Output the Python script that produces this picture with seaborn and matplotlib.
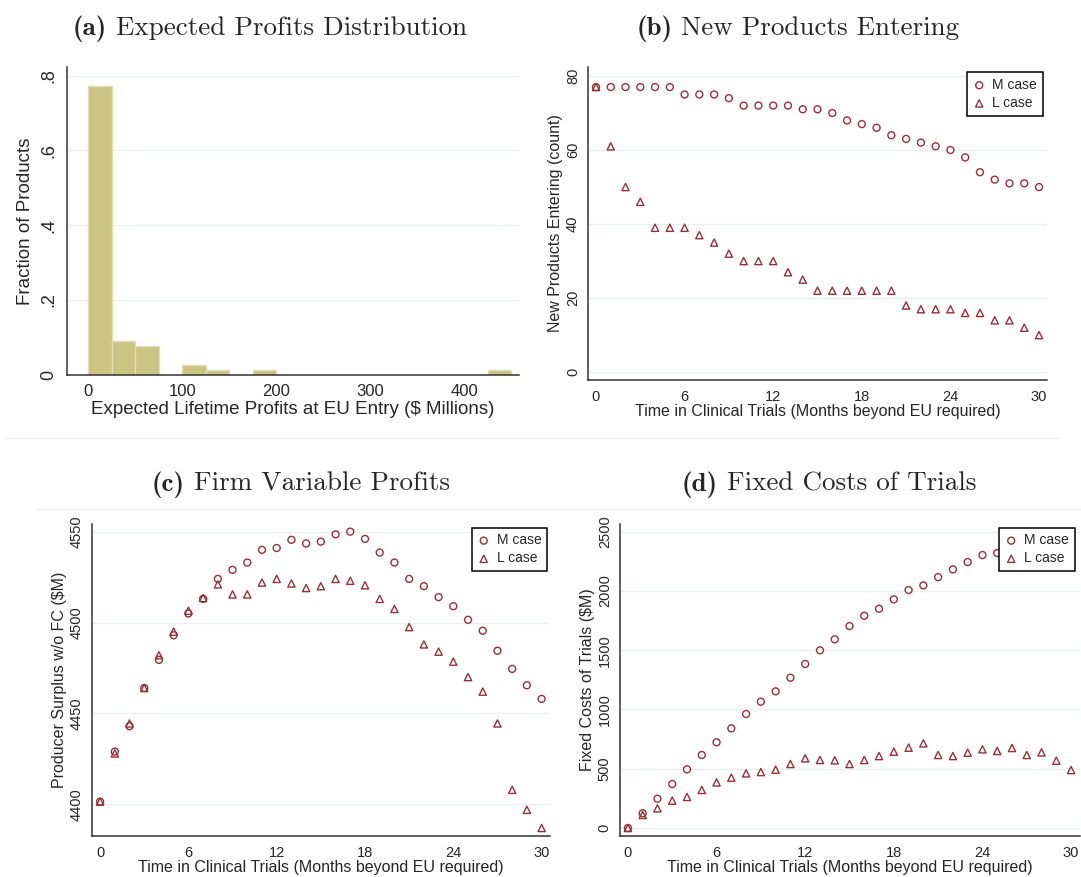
import numpy as np
import pandas as pd
import matplotlib
matplotlib.use("Agg")
import matplotlib.pyplot as plt
import seaborn as sns
from matplotlib.lines import Line2D

# ---------------- data ----------------
profit_bin_left = [0, 25, 50, 100, 125, 175, 425]
profit_fraction = [0.772, 0.090, 0.077, 0.026, 0.013, 0.013, 0.013]
profit_bin_edges = list(range(0, 475, 25))

months = list(range(31))
entering_m = [77, 77, 77, 77, 77, 77, 75, 75, 75, 74, 72, 72, 72, 72, 71, 71,
              70, 68, 67, 66, 64, 63, 62, 61, 60, 58, 54, 52, 51, 51, 50]
entering_l = [77, 61, 50, 46, 39, 39, 39, 37, 35, 32, 30, 30, 30, 27, 25, 22,
              22, 22, 22, 22, 22, 18, 17, 17, 17, 16, 16, 14, 14, 12, 10]

surplus_m = [4401.5, 4429, 4443, 4464, 4479.5, 4493, 4505, 4513, 4524, 4529,
             4533, 4540, 4541, 4545.5, 4543.5, 4544.5, 4548.5, 4550, 4546,
             4538.5, 4533, 4524, 4520, 4514, 4509, 4501.5, 4495.5, 4484.5,
             4474.5, 4465.5, 4458]
surplus_l = [4401.5, 4428, 4444.5, 4464, 4482, 4495, 4506.5, 4513.5, 4521,
             4515.5, 4515.5, 4522, 4524, 4521.5, 4519, 4520, 4524, 4523,
             4520.5, 4513, 4507.5, 4497.5, 4488, 4484, 4478.5, 4470, 4462,
             4444.5, 4408, 4397, 4387]

fixed_months_m = list(range(26))
fixed_cost_m = [0, 124, 247, 371, 495, 616, 723, 841, 962, 1066, 1153, 1268,
                1384, 1499, 1592, 1704, 1791, 1850, 1929, 2008, 2047, 2117,
                2182, 2244, 2303, 2320]
fixed_cost_l = [0, 110, 166, 231, 262, 321, 385, 425, 461, 472, 492, 540, 588,
                574, 571, 540, 574, 607, 644, 678, 714, 616, 607, 636, 664, 650,
                675, 616, 638, 568, 489]

titles = [("(a)", "Expected Profits Distribution"),
          ("(b)", "New Products Entering"),
          ("(c)", "Firm Variable Profits"),
          ("(d)", "Fixed Costs of Trials")]

# ---------------- style ----------------
sns.set_style("white")
plt.rcParams["font.family"] = ["Liberation Sans", "DejaVu Sans"]

W, H = 1081, 877
fig = plt.figure(figsize=(W / 100, H / 100), dpi=100)

MARK = "#9A2F3A"
KHAKI = "#CBC483"
GRID = "#E8F0F2"
SPINE = "#333333"


def make_ax(left, right, top, bottom):
    return fig.add_axes([left / W, 1 - bottom / H, (right - left) / W, (bottom - top) / H])


def style_ax(ax, ysize, xsize, labsize, ypad=3):
    for s in ["top", "right"]:
        ax.spines[s].set_visible(False)
    for s in ["left", "bottom"]:
        ax.spines[s].set_color(SPINE)
        ax.spines[s].set_linewidth(1.1)
    ax.tick_params(axis="both", direction="out", length=4, width=1, color=SPINE,
                   pad=3)
    ax.tick_params(axis="y", labelsize=ysize, pad=ypad)
    ax.tick_params(axis="x", labelsize=xsize)
    plt.setp(ax.get_yticklabels(), rotation=90, va="center")
    ax.grid(False)
    lo, hi = ax.get_ylim()
    for yv in ax.get_yticks():
        if lo <= yv <= hi:
            ax.axhline(yv, color=GRID, lw=1.0, zorder=0)
    ax.xaxis.label.set_size(labsize)
    ax.yaxis.label.set_size(labsize)


def scatter_pair(ax, x1, y1, x2, y2):
    sns.scatterplot(x=x1, y=y1, ax=ax, marker="o", s=25, facecolors="none",
                    edgecolor=MARK, linewidth=1.0, label="M case", zorder=3)
    sns.scatterplot(x=x2, y=y2, ax=ax, marker="^", s=27, facecolors="none",
                    edgecolor=MARK, linewidth=1.0, label="L case", zorder=3)


def add_legend(ax, xa, ya):
    leg = ax.legend(loc="upper right", bbox_to_anchor=(xa, ya), frameon=True,
                    fancybox=False, framealpha=1, edgecolor="black",
                    fontsize=10, handlelength=0.9, handletextpad=0.5,
                    borderpad=0.4, labelspacing=0.3, borderaxespad=0)
    leg.get_frame().set_linewidth(1.1)
    leg.set_zorder(10)


# ---------------- (a) histogram ----------------
axa = make_ax(66.7, 519, 67.3, 374.7)
sns.histplot(x=[b + 12.5 for b in profit_bin_left], weights=profit_fraction,
             bins=profit_bin_edges, stat="count", ax=axa, color=KHAKI,
             edgecolor="#E2DDB4", linewidth=1.0, alpha=1, zorder=2)
axa.set_xlim(-23, 458.5)
axa.set_ylim(0, 0.8225)
axa.set_xticks([0, 100, 200, 300, 400])
axa.set_yticks([0, 0.2, 0.4, 0.6, 0.8])
axa.set_yticklabels(["0", ".2", ".4", ".6", ".8"])
axa.set_xlabel("Expected Lifetime Profits at EU Entry ($ Millions)", labelpad=1)
axa.set_ylabel("Fraction of Products", labelpad=4)
style_ax(axa, 13, 12, 13.5)

# ---------------- (b) entering ----------------
axb = make_ax(587.7, 1047.3, 66.7, 380.3)
scatter_pair(axb, months, entering_m, months, entering_l)
axb.set_xlim(-0.56, 30.56)
axb.set_ylim(-2.2, 82.5)
axb.set_xticks(range(0, 31, 3))
axb.set_xticklabels([str(m) if m % 6 == 0 else "" for m in range(0, 31, 3)])
axb.set_yticks([0, 20, 40, 60, 80])
axb.set_xlabel("Time in Clinical Trials (Months beyond EU required)", labelpad=0)
axb.set_ylabel("New Products Entering (count)", labelpad=2)
style_ax(axb, 10.5, 10.5, 11.5, ypad=1.5)
add_legend(axb, 0.990, 0.982)

# ---------------- (c) surplus ----------------
axc = make_ax(91.7, 550, 524, 836)
scatter_pair(axc, months, surplus_m, months, surplus_l)
axc.set_xlim(-0.57, 30.57)
axc.set_ylim(4382.6, 4554.2)
axc.set_xticks(range(0, 31, 3))
axc.set_xticklabels([str(m) if m % 6 == 0 else "" for m in range(0, 31, 3)])
axc.set_yticks([4400, 4450, 4500, 4550])
axc.set_xlabel("Time in Clinical Trials (Months beyond EU required)", labelpad=0)
axc.set_ylabel("Producer Surplus w/o FC ($M)", labelpad=2)
style_ax(axc, 10.5, 10.5, 11.5, ypad=1.5)
add_legend(axc, 0.994, 0.988)

# ---------------- (d) fixed costs ----------------
axd = make_ax(619.5, 1079.5, 524, 836)
scatter_pair(axd, fixed_months_m, fixed_cost_m, months, fixed_cost_l)
axd.set_xlim(-0.57, 30.57)
axd.set_ylim(-67.5, 2565)
axd.set_xticks(range(0, 31, 3))
axd.set_xticklabels([str(m) if m % 6 == 0 else "" for m in range(0, 31, 3)])
axd.set_yticks([0, 500, 1000, 1500, 2000, 2500])
axd.set_xlabel("Time in Clinical Trials (Months beyond EU required)", labelpad=0)
axd.set_ylabel("Fixed Costs of Trials ($M)", labelpad=2)
style_ax(axd, 10.5, 10.5, 11.5, ypad=1.5)
add_legend(axd, 0.9896, 0.988)

# ---------------- titles ----------------
renderer = fig.canvas.get_renderer()
TSIZE = 19.5
gap = TSIZE * 100 / 72 * 0.33
title_pos = [(269.5, 35), (798, 35), (301, 491), (829, 491)]
for (bold, rest), (xc, yb) in zip(titles, title_pos):
    t1 = fig.text(0, 1 - yb / H, bold, family="cmb10", fontsize=TSIZE,
                  ha="left", va="baseline")
    t2 = fig.text(0, 1 - yb / H, rest, family="cmr10", fontsize=TSIZE,
                  ha="left", va="baseline")
    w1 = t1.get_window_extent(renderer).width
    w2 = t2.get_window_extent(renderer).width
    x0 = xc - (w1 + gap + w2) / 2
    t1.set_x(x0 / W)
    t2.set_x((x0 + w1 + gap) / W)

# faint separators
fig.add_artist(Line2D([5 / W, 1060 / W], [1 - 438 / H, 1 - 438 / H], color="#EEF0F1", lw=1))
fig.add_artist(Line2D([36 / W, 1.0], [1 - 509 / H, 1 - 509 / H], color="#EEF0F1", lw=1))

fig.savefig("out.png", dpi=100)
